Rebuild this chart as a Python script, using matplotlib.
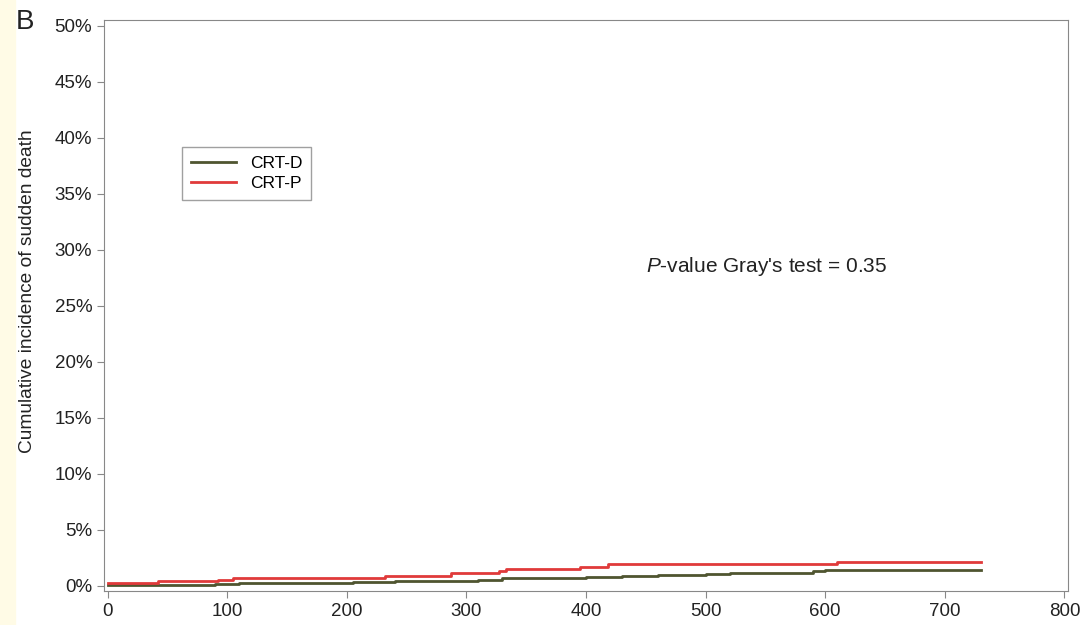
import numpy as np
import matplotlib.pyplot as plt
from matplotlib.ticker import FuncFormatter

# step points (days, cumulative incidence %)
crtd_days = [0, 65, 90, 110, 205, 240, 310, 330, 400, 430, 460, 500, 520, 560, 590, 600, 730]
crtd_inc = [0.08, 0.12, 0.18, 0.22, 0.32, 0.42, 0.52, 0.68, 0.82, 0.88, 0.97, 1.05, 1.12, 1.2, 1.3, 1.42, 1.42]

crtp_days = [0, 42, 92, 105, 208, 232, 287, 327, 333, 395, 418, 610, 730]
crtp_inc = [0.24, 0.45, 0.5, 0.68, 0.72, 0.9, 1.12, 1.3, 1.5, 1.72, 1.95, 2.1, 2.1]

x_ticks = [0, 100, 200, 300, 400, 500, 600, 700, 800]
y_ticks = [0, 5, 10, 15, 20, 25, 30, 35, 40, 45, 50]

plt.rcParams['font.family'] = ['Liberation Sans', 'DejaVu Sans']
plt.rcParams['mathtext.fontset'] = 'custom'
plt.rcParams['mathtext.rm'] = 'Liberation Sans'
plt.rcParams['mathtext.it'] = 'Liberation Sans:italic'

fig = plt.figure(figsize=(10.81, 6.25), dpi=100)
fig.patches.append(plt.Rectangle((0, 0), 15 / 1081, 1, transform=fig.transFigure,
                                 color='#fffbe6', zorder=0))
ax = fig.add_axes([104 / 1081, 1 - 591 / 625, (1068 - 104) / 1081, (591 - 20) / 625])

ax.step(crtd_days, crtd_inc, where='post', color='#4f5530', lw=2, label='CRT-D')
ax.step(crtp_days, crtp_inc, where='post', color='#e03a3a', lw=2, label='CRT-P')

ax.set_xlim(-3, 803)
ax.set_ylim(-0.45, 50.5)
ax.set_xticks(x_ticks)
ax.set_yticks(y_ticks)
ax.yaxis.set_major_formatter(FuncFormatter(lambda v, p: f'{int(v)}%'))
ax.tick_params(labelsize=13.5, colors='#222222', length=5, color='#888888')
for s in ax.spines.values():
    s.set_color('#888888')

ax.set_ylabel('Cumulative incidence of sudden death', fontsize=13.8, color='#222222')
ax.yaxis.set_label_coords(-68 / 964, 0.525)

leg = ax.legend(loc='upper left', bbox_to_anchor=(78 / 964, 1 - 127 / 571), fontsize=12.5,
                frameon=True, fancybox=False, edgecolor='#888888', handlelength=2.6,
                borderpad=0.5, labelspacing=0.3, borderaxespad=0)
leg.get_frame().set_linewidth(1)

ax.text(450, 28.5, "$P$-value Gray's test = 0.35", fontsize=15, color='#222222',
        va='center')
fig.text(16 / 1081, 1 - 22 / 625, 'B', fontsize=20, color='#222222', ha='left', va='center')

plt.savefig('out.png', dpi=100)
